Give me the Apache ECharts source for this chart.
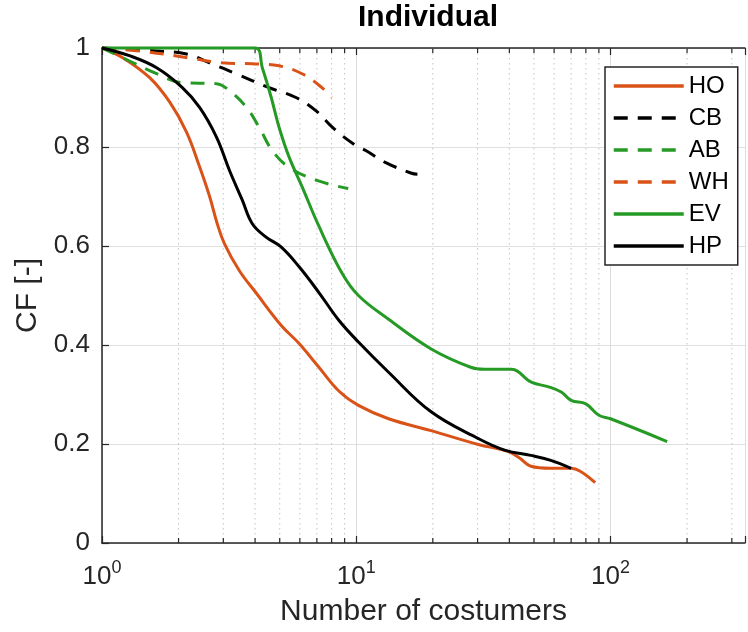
<!DOCTYPE html>
<html>
<head>
<meta charset="utf-8">
<script src="https://cdn.jsdelivr.net/npm/echarts@6/dist/echarts.min.js"></script>
<style>html,body{margin:0;padding:0;background:#fff}#c{width:748px;height:632px}</style>
</head>
<body>
<div id="c"></div>
<script>
// ---- data ----
const seriesNames = ['HO', 'CB', 'AB', 'WH', 'EV', 'HP'];

const HO_x = [1, 1.21, 1.54, 1.85, 2.15, 2.42, 2.65, 2.84, 3.03, 3.47, 4.04, 5.06, 5.96, 7.13, 8.54, 10.2, 13.4, 19.7, 30.2, 39.5, 44, 48.6, 58, 70, 76, 87];
const HO_y = [1, 0.98, 0.94, 0.89, 0.83, 0.76, 0.70, 0.645, 0.605, 0.55, 0.505, 0.44, 0.403, 0.355, 0.307, 0.278, 0.251, 0.227, 0.199, 0.185, 0.171, 0.155, 0.151, 0.151, 0.145, 0.122];

const CB_x = [1, 1.64, 2.15, 2.65, 3.37, 4.54, 5.79, 6.95, 8.17, 9.96, 10.9, 13.0, 16.5, 17.4];
const CB_y = [1, 0.994, 0.988, 0.97, 0.948, 0.92, 0.90, 0.873, 0.837, 0.803, 0.793, 0.769, 0.747, 0.745];

const AB_x = [1, 1.21, 1.64, 2.07, 2.82, 3.17, 3.7, 4.15, 4.67, 5.44, 6.95, 9.3];
const AB_y = [1, 0.98, 0.948, 0.93, 0.928, 0.914, 0.88, 0.84, 0.793, 0.759, 0.733, 0.716];

const WH_x = [1, 1.41, 2.2, 2.97, 3.9, 4.97, 6.12, 7.33, 8.0];
const WH_y = [1, 0.994, 0.98, 0.97, 0.968, 0.964, 0.948, 0.92, 0.90];

const EV_x = [1, 4, 4.27, 4.63, 4.97, 5.44, 6.12, 7.13, 8.77, 10.2, 13.4, 19.7, 28.2, 32, 40.7, 48.8, 57.5, 64, 70, 80, 90, 100, 167];
const EV_y = [1, 1, 0.96, 0.90, 0.84, 0.78, 0.72, 0.64, 0.546, 0.50, 0.452, 0.392, 0.355, 0.351, 0.351, 0.325, 0.315, 0.305, 0.288, 0.281, 0.258, 0.251, 0.205];

const HP_x = [1, 1.29, 1.64, 2.07, 2.42, 2.82, 3.17, 3.56, 3.9, 4.42, 5.06, 5.96, 7.13, 8.54, 10.2, 13.4, 19.7, 30.2, 38.6, 48.6, 58.2, 70];
const HP_y = [1, 0.984, 0.96, 0.92, 0.88, 0.82, 0.753, 0.693, 0.645, 0.618, 0.598, 0.558, 0.506, 0.45, 0.406, 0.345, 0.265, 0.211, 0.187, 0.177, 0.167, 0.151];

const minorTickValues = [2, 3, 4, 5, 6, 7, 8, 9, 20, 30, 40, 50, 60, 70, 80, 90, 200, 300];
const yTickValues = [0, 0.2, 0.4, 0.6, 0.8, 1];

// ---- styling ----
const FONT = '"Liberation Sans", Arial, Helvetica, sans-serif';
const ORANGE = '#D95319';
const GREEN = '#259A25';
const AXIS = '#262626';

function zip(xs, ys) { return xs.map((x, i) => [x, ys[i]]); }

function lineSeries(name, xs, ys, color, dashed) {
  return {
    name: name, type: 'line', data: zip(xs, ys),
    xAxisIndex: 0, yAxisIndex: 0,
    symbol: 'none', smooth: 0.4, clip: false, z: 5,
    lineStyle: { color: color, width: 3, type: dashed ? [14, 10] : 'solid', cap: 'butt' },
    itemStyle: { color: color }
  };
}

const chart = echarts.init(document.getElementById('c'), null, { renderer: 'canvas' });
chart.setOption({
  animation: false,
  backgroundColor: '#fff',
  textStyle: { fontFamily: FONT },
  title: {
    text: 'Individual', left: 358, top: 3, padding: 0,
    textStyle: { fontFamily: FONT, fontSize: 30, fontWeight: 'bold', color: '#000' }
  },
  grid: { left: 102, right: 0, top: 48, bottom: 87, containLabel: false },
  legend: {
    data: seriesNames, orient: 'vertical', left: 605, top: 67,
    itemWidth: 70, itemHeight: 14, itemGap: 8, itemTextGap: 6,
    padding: [7, 9, 7, 7], borderColor: AXIS, borderWidth: 1.5, backgroundColor: '#fff',
    itemStyle: { opacity: 0 },
    lineStyle: { width: 3.5 },
    textStyle: { fontFamily: FONT, fontSize: 24, color: '#000' }
  },
  xAxis: [
    {
      type: 'log', logBase: 10, min: 1, max: 338, position: 'bottom',
      name: 'Number of costumers', nameLocation: 'middle', nameGap: 54,
      nameTextStyle: { fontFamily: FONT, fontSize: 30, color: '#262626' },
      axisLine: { show: true, lineStyle: { color: AXIS, width: 1.5 } },
      axisTick: { show: true, inside: true, length: 7, lineStyle: { color: AXIS, width: 1.2 } },
      splitLine: { show: true, lineStyle: { color: '#dcdcdc', width: 1 } },
      axisLabel: {
        margin: 16, color: '#262626',
        formatter: function (v) {
          const e = Math.log10(v);
          if (Math.abs(e - Math.round(e)) > 1e-6) return '';
          return '{b|10}{s|' + Math.round(e) + '}';
        },
        rich: {
          b: { fontFamily: FONT, fontSize: 26, lineHeight: 31, verticalAlign: 'bottom', color: '#262626' },
          s: { fontFamily: FONT, fontSize: 18, lineHeight: 31, verticalAlign: 'top', color: '#262626' }
        }
      }
    },
    {
      type: 'log', logBase: 10, min: 1, max: 338, position: 'top',
      axisLine: { show: true, lineStyle: { color: AXIS, width: 1.5 } },
      axisTick: { show: true, inside: true, length: 7, lineStyle: { color: AXIS, width: 1.2 } },
      axisLabel: { show: false },
      splitLine: { show: false }
    }
  ],
  yAxis: {
    type: 'value', min: 0, max: 1, interval: 0.2,
    name: 'CF [-]', nameLocation: 'middle', nameGap: 58, nameRotate: 90,
    nameTextStyle: { fontFamily: FONT, fontSize: 30, color: '#262626' },
    axisLine: { show: true, lineStyle: { color: AXIS, width: 1.5 } },
    axisTick: { show: true, inside: true, length: 7, lineStyle: { color: AXIS, width: 1.2 } },
    splitLine: { show: true, lineStyle: { color: '#e0e0e0', width: 1 } },
    axisLabel: { margin: 12, fontFamily: FONT, fontSize: 26, color: '#262626' }
  },
  series: [
    {
      name: 'minor', type: 'custom', xAxisIndex: 0, yAxisIndex: 0, silent: true, z: 1,
      data: minorTickValues.map(v => [v, 0]),
      encode: { x: 0, y: 1 },
      renderItem: function (params, api) {
        const v = api.value(0);
        const pb = api.coord([v, yTickValues[0]]);
        const pt = api.coord([v, yTickValues[yTickValues.length - 1]]);
        return {
          type: 'group', children: [
            { type: 'line', shape: { x1: pb[0], y1: pt[1], x2: pb[0], y2: pb[1] },
              style: { stroke: '#c4c4c4', lineWidth: 1, lineDash: [1.5, 3.5] } },
            { type: 'line', shape: { x1: pb[0], y1: pb[1], x2: pb[0], y2: pb[1] - 5 },
              style: { stroke: AXIS, lineWidth: 1.2 } },
            { type: 'line', shape: { x1: pb[0], y1: pt[1], x2: pb[0], y2: pt[1] + 5 },
              style: { stroke: AXIS, lineWidth: 1.2 } }
          ]
        };
      }
    },
    lineSeries('HO', HO_x, HO_y, ORANGE, false),
    lineSeries('CB', CB_x, CB_y, '#000000', true),
    lineSeries('AB', AB_x, AB_y, GREEN, true),
    lineSeries('WH', WH_x, WH_y, ORANGE, true),
    lineSeries('EV', EV_x, EV_y, GREEN, false),
    lineSeries('HP', HP_x, HP_y, '#000000', false)
  ]
});
</script>
</body>
</html>
